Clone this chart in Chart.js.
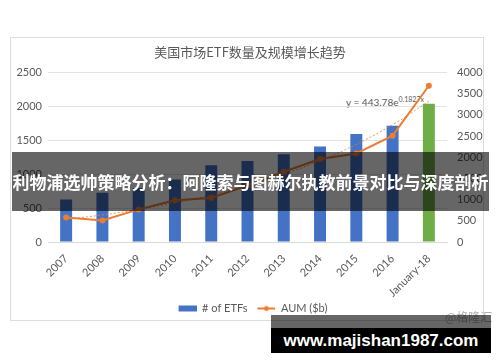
<!DOCTYPE html>
<html>
<head>
<meta charset="utf-8">
<script src="https://cdn.jsdelivr.net/npm/chart.js@4/dist/chart.umd.min.js"></script>
<style>
  html, body { margin: 0; padding: 0; background: #fff; }
  #wrap { position: relative; width: 500px; height: 362px; overflow: hidden; font-family: Lato, "Noto Sans CJK SC", sans-serif; }
  #card { position: absolute; left: 10px; top: 37px; width: 472px; height: 282px; border: 1px solid #dedede; background: #fff; }
  #trend { position: absolute; left: 346px; top: 95px; font-size: 10px; color: #595959; white-space: nowrap; }
  #trend sup { font-size: 7px; vertical-align: 4px; }
  canvas { position: absolute; left: 0; top: 0; }
  #banner { position: absolute; left: 12px; top: 152px; width: 477px; height: 59px; background: rgba(0,0,0,0.6);
            color: #fff; font-family: "Noto Sans CJK SC", sans-serif; font-weight: bold; font-size: 17px;
            line-height: 59px; text-align: center; white-space: nowrap; }
  #src { position: absolute; left: 445px; top: 308px; font-family: "Noto Sans CJK SC", sans-serif; font-size: 12px; color: #b0b0b0; white-space: nowrap; }
  #strip { position: absolute; left: 271px; top: 315px; width: 220px; height: 13px; background: rgba(0,0,0,0.6); }
  #wm { position: absolute; left: 271px; top: 328px; width: 220px; height: 25px; background: #000; color: #fff;
        font-family: "Liberation Sans", Arial, sans-serif; font-weight: bold; font-size: 17px; line-height: 25px; text-align: center; white-space: nowrap; }
</style>
</head>
<body>
<div id="wrap">
  <div id="card"></div>
  <div id="trend">y = 443.78e<sup>0.1827x</sup></div>
  <canvas id="c" width="500" height="362"></canvas>
  <div id="banner">利物浦选帅策略分析：阿隆索与图赫尔执教前景对比与深度剖析</div>
  <div id="src">@格隆汇</div>
  <div id="strip"></div>
  <div id="wm">www.majishan1987.com</div>
</div>
<script>
const categories = ['2007','2008','2009','2010','2011','2012','2013','2014','2015','2016','January-18'];
const etfCounts  = [629, 728, 797, 923, 1134, 1194, 1294, 1411, 1594, 1716, 2040];
const aumValues  = [580, 510, 770, 985, 1040, 1337, 1660, 1960, 2090, 2510, 3690];
const trendValues = [533, 640, 769, 923, 1109, 1331, 1599, 1920, 2306, 2770, 3320];
const leftTicks = [0, 500, 1000, 1500, 2000, 2500];
const rightTicks = [0, 500, 1000, 1500, 2000, 2500, 3000, 3500, 4000];

const BLUE = '#4472C4', GREEN = '#70AD47', ORANGE = '#ED7D31', TXT = '#595959', GRID = '#e3e3e3';
const barColors = categories.map((c, i) => i === categories.length - 1 ? GREEN : BLUE);

function makeIcon(kind) {
  const cv = document.createElement('canvas');
  cv.width = 24; cv.height = 8;
  const g = cv.getContext('2d');
  if (kind === 'bar') {
    g.fillStyle = BLUE; g.fillRect(6, 1, 18, 6);
  } else {
    g.strokeStyle = ORANGE; g.lineWidth = 2;
    g.beginPath(); g.moveTo(6, 4); g.lineTo(24, 4); g.stroke();
    g.fillStyle = ORANGE; g.beginPath(); g.arc(15, 4, 2.5, 0, Math.PI * 2); g.fill();
  }
  return cv;
}
const barIcon = makeIcon('bar');
const lineIcon = makeIcon('line');

const FONT = { family: 'Lato, "Noto Sans CJK SC", sans-serif', size: 11 };

new Chart(document.getElementById('c'), {
  data: {
    labels: categories,
    datasets: [
      { type: 'line', label: 'trend', data: trendValues, yAxisID: 'y1', borderColor: 'rgba(237,125,49,0.8)',
        borderWidth: 1, borderDash: [2, 2], pointRadius: 0, fill: false, order: 1, tension: 0.4 },
      { type: 'line', label: 'AUM ($b)', data: aumValues, yAxisID: 'y1', borderColor: ORANGE, backgroundColor: ORANGE,
        borderWidth: 2, pointRadius: 3, pointBackgroundColor: ORANGE, pointBorderWidth: 0, fill: false, order: 0, tension: 0 },
      { type: 'bar', label: '# of ETFs', data: etfCounts, yAxisID: 'y', backgroundColor: barColors,
        barPercentage: 0.33, categoryPercentage: 1.0, order: 2 }
    ]
  },
  options: {
    responsive: false,
    animation: false,
    layout: { padding: { left: 10, right: 10, top: 37, bottom: 38 } },
    plugins: {
      title: { display: true, text: '美国市场ETF数量及规模增长趋势', color: TXT,
               font: { family: '"Noto Sans CJK SC", sans-serif', size: 13, weight: 'normal' },
               padding: { top: 7, bottom: 13 } },
      tooltip: { enabled: false },
      legend: {
        position: 'bottom',
        labels: {
          color: TXT, font: FONT, usePointStyle: true, pointStyleWidth: 24, padding: 4,
          generateLabels: () => [
            { text: '# of ETFs', pointStyle: barIcon, fontColor: TXT, datasetIndex: 2, lineWidth: 0 },
            { text: 'AUM ($b)', pointStyle: lineIcon, fontColor: TXT, datasetIndex: 1, lineWidth: 0 }
          ]
        }
      }
    },
    scales: {
      x: {
        grid: { display: false },
        border: { color: '#d9d9d9' },
        ticks: { color: TXT, font: FONT, maxRotation: 45, minRotation: 45, padding: 2 },
        afterFit: s => { s.height = 57; }
      },
      y: {
        position: 'left', min: 0, max: 2500,
        grid: { color: GRID, drawTicks: false },
        border: { display: false },
        ticks: { color: TXT, font: FONT, padding: 6, callback: (v) => leftTicks.includes(v) ? String(v) : '' , stepSize: 500 },
        afterFit: s => { s.width = 38; }
      },
      y1: {
        position: 'right', min: 0, max: 4000,
        grid: { drawOnChartArea: false, drawTicks: false },
        border: { display: false },
        ticks: { color: TXT, font: FONT, padding: 10, callback: (v) => rightTicks.includes(v) ? String(v) : '', stepSize: 500 },
        afterFit: s => { s.width = 43; }
      }
    }
  }
});
</script>
</body>
</html>
